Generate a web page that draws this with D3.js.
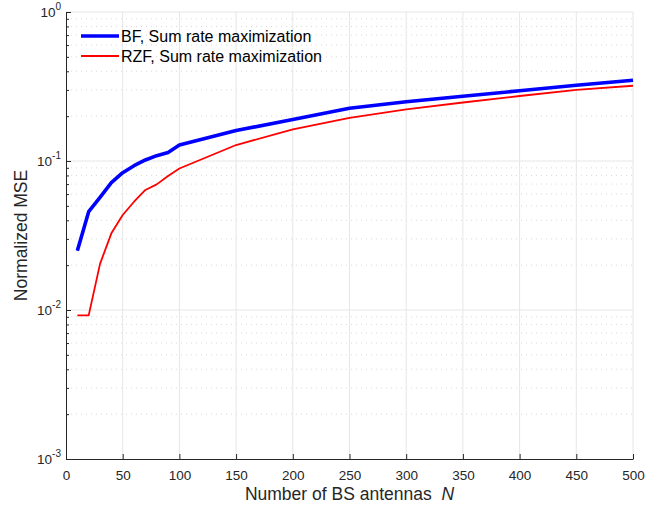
<!DOCTYPE html>
<html><head><meta charset="utf-8">
<script src="https://cdn.jsdelivr.net/npm/d3@7"></script>
<style>body{margin:0;background:#fff}svg{display:block;font-family:"Liberation Sans",Arial,sans-serif}</style>
</head><body><svg id="c" width="659" height="505"></svg>
<script>
const antennas = [10,20,30,40,50,60,70,80,90,100,150,200,250,300,350,400,450,500];
const bfMSE  = [0.025,0.0457,0.057,0.0716,0.0835,0.093,0.1016,0.1086,0.114,0.128,0.160,0.190,0.226,0.250,0.272,0.296,0.322,0.348];
const rzfMSE = [0.0092,0.0092,0.0204,0.0327,0.0434,0.0533,0.0639,0.0697,0.0794,0.089,0.128,0.163,0.195,0.222,0.247,0.273,0.300,0.320];
const xTicks = [0,50,100,150,200,250,300,350,400,450,500];
const yExps = [-3,-2,-1,0];
const seriesNames = ["BF, Sum rate maximization","RZF, Sum rate maximization"];

const svg = d3.select("#c");
const m = {l:66, r:26, t:12, b:46};
const W = 659, H = 505;
const x = d3.scaleLinear().domain([0,500]).range([m.l, W-m.r]);
const y = d3.scaleLog().domain([1e-3,1]).range([H-m.b, m.t]);
const ink = "#262626";

// grid
const minors = [];
for (let e=-3;e<0;e++) for (let k=2;k<=9;k++) minors.push(k*Math.pow(10,e));
svg.append("g").selectAll("line").data(minors).join("line")
  .attr("x1",x(0)).attr("x2",x(500)).attr("y1",d=>y(d)).attr("y2",d=>y(d))
  .attr("stroke","#d9d9d9").attr("stroke-dasharray","1,4").attr("stroke-width",1);
svg.append("g").selectAll("line").data(xTicks.slice(1)).join("line")
  .attr("x1",d=>x(d)).attr("x2",d=>x(d)).attr("y1",y(1e-3)).attr("y2",y(1))
  .attr("stroke","#e6e6e6").attr("stroke-width",1);
svg.append("g").selectAll("line").data(yExps.slice(1).map(e=>Math.pow(10,e))).join("line")
  .attr("x1",x(0)).attr("x2",x(500)).attr("y1",d=>y(d)).attr("y2",d=>y(d))
  .attr("stroke","#e6e6e6").attr("stroke-width",1);

// axes
const xAxis = d3.axisBottom(x).tickValues(xTicks).tickSizeInner(-5).tickSizeOuter(0).tickPadding(11);
const gx = svg.append("g").attr("transform",`translate(0,${y(1e-3)})`).call(xAxis);
gx.select(".domain").attr("stroke",ink);
gx.selectAll(".tick line").attr("stroke",ink);
gx.selectAll("text").attr("fill",ink).attr("font-size",13.5).attr("font-family","Liberation Sans, Arial, sans-serif");

const yAxis = d3.axisLeft(y).tickValues(minors).tickSizeInner(-3).tickSizeOuter(0).tickFormat("");
const gyMinor = svg.append("g").attr("transform",`translate(${x(0)},0)`).call(yAxis);
gyMinor.select(".domain").remove();
gyMinor.selectAll(".tick line").attr("stroke",ink);
const yMajor = d3.axisLeft(y).tickValues(yExps.map(e=>Math.pow(10,e))).tickSizeInner(-5).tickSizeOuter(0).tickFormat("");
const gy = svg.append("g").attr("transform",`translate(${x(0)},0)`).call(yMajor);
gy.select(".domain").attr("stroke",ink);
gy.selectAll(".tick line").attr("stroke",ink);
// y tick labels with superscripts
svg.append("g").selectAll("text").data(yExps).join("text")
  .attr("x",x(0)-5).attr("y",d=>y(Math.pow(10,d))+5)
  .attr("text-anchor","end").attr("fill",ink).attr("font-size",13.5)
  .each(function(d){
    const t=d3.select(this);
    t.append("tspan").text("10");
    t.append("tspan").attr("dy",-7).attr("font-size",10).text(d);
  });

// lines
const line = d3.line().x((d,i)=>x(antennas[i])).y(d=>y(d));
svg.append("path").datum(rzfMSE).attr("d",line).attr("fill","none").attr("stroke","#ff0000").attr("stroke-width",1.8).attr("stroke-linejoin","round");
svg.append("path").datum(bfMSE).attr("d",line).attr("fill","none").attr("stroke","#0000ff").attr("stroke-width",3.6).attr("stroke-linejoin","round");

// legend
const lg = svg.append("g");
const legendColors = ["#0000ff","#ff0000"], legendW=[3.6,1.8];
seriesNames.forEach((n,i)=>{
  const yy = 36 + i*20;
  lg.append("line").attr("x1",81).attr("x2",119).attr("y1",yy).attr("y2",yy).attr("stroke",legendColors[i]).attr("stroke-width",legendW[i]);
  lg.append("text").attr("x",121).attr("y",yy+5.5).attr("font-size",16).attr("fill","#000").text(n);
});

// axis labels
svg.append("text").attr("x",(x(0)+x(500))/2).attr("y",500).attr("text-anchor","middle").attr("font-size",17.5).attr("fill",ink)
  .attr("xml:space","preserve")
  .call(t=>{t.append("tspan").text("Number of BS antennas \u00a0"); t.append("tspan").attr("font-style","italic").text("N");});
svg.append("text").attr("transform",`translate(27,${(y(1)+y(1e-3))/2}) rotate(-90)`).attr("text-anchor","middle").attr("font-size",17.5).attr("fill",ink).text("Normalized MSE");
</script></body></html>
